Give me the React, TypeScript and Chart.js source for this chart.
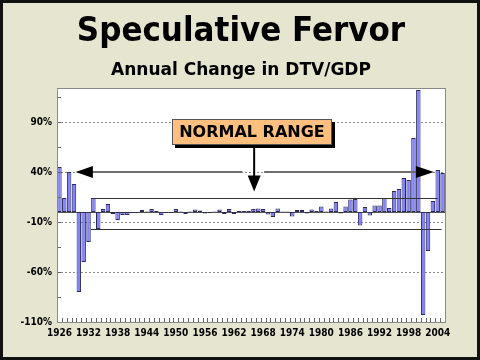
import React, { useEffect, useRef } from "react";
import { Chart, registerables } from "chart.js";
Chart.register(...registerables);

const firstYear = 1926;
const yearCount = 80;
const years: string[] = Array.from({ length: yearCount }, (_, i) => String(firstYear + i));

const changes: number[] = [
  45, 14, 40, 28, -80, -50, -30, 14, -17, 3,
  8, -2, -8, -3, -3, -1, -1, 2, 0.5, 3,
  1, -3, -1, -1, 3, 0.5, -2, 0.5, 2.5, 1.5,
  -1.5, -1, 0.5, 2.5, -2, 3, -2, 1, 1, 1,
  3, 3.5, 3, -2.5, -5, 3.5, 0.5, 0.5, -4.5, 2,
  2, -1.5, 2.5, 1, 5.5, 0.5, 3.5, 10, -1.5, 5.5,
  12.5, 13, -13.5, 5, -3.5, 6.5, 6.5, 14, 4, 21,
  23, 34, 32, 74, 122, -103, -39, 11, 42, 39,
];

const tickYears: string[] = ["1926", "1932", "1938", "1944", "1950", "1956", "1962", "1968", "1974", "1980", "1986", "1992", "1998", "2004"];
const yTickValues: number[] = [-110, -60, -10, 40, 90];
const yMin = -110;
const yMax = 124;

const normalUpper = 14.5;
const normalLower = -16.5;
const arrowLevel = 40;

const FONT = '"DejaVu Sans Condensed", "DejaVu Sans", sans-serif';

const decor = {
  id: "decor",
  beforeDatasetsDraw(chart: any) {
    const { ctx, chartArea: a, scales } = chart;
    const y = scales.y;
    ctx.save();
    ctx.strokeStyle = "#8c8c8c";
    ctx.lineWidth = 1;
    ctx.setLineDash([2, 2]);
    for (const v of yTickValues) {
      if (v === yMin) continue;
      const py = Math.round(y.getPixelForValue(v)) + 0.5;
      ctx.beginPath();
      ctx.moveTo(a.left, py);
      ctx.lineTo(a.right, py);
      ctx.stroke();
    }
    ctx.setLineDash([]);
    const z = Math.round(y.getPixelForValue(0)) + 0.5;
    ctx.strokeStyle = "#555";
    ctx.beginPath();
    ctx.moveTo(a.left, z);
    ctx.lineTo(a.right, z);
    ctx.stroke();
    ctx.restore();
  },
  afterDatasetsDraw(chart: any) {
    const { ctx, chartArea: a, scales } = chart;
    const y = scales.y;
    const step = (a.right - a.left) / yearCount;
    const cx = (c: number) => a.left + c * step;
    ctx.save();
    ctx.strokeStyle = "#333";
    ctx.lineWidth = 1;
    const u = Math.round(y.getPixelForValue(normalUpper)) + 0.5;
    const l = Math.round(y.getPixelForValue(normalLower)) + 0.5;
    ctx.beginPath();
    ctx.moveTo(cx(7), u);
    ctx.lineTo(cx(78.5), u);
    ctx.moveTo(cx(7), l);
    ctx.lineTo(cx(79.3), l);
    ctx.stroke();

    const ay = y.getPixelForValue(arrowLevel);
    ctx.strokeStyle = "#6e6e6e";
    ctx.lineWidth = 2;
    ctx.beginPath();
    ctx.moveTo(cx(4.5), ay);
    ctx.lineTo(cx(38.2), ay);
    ctx.moveTo(cx(42.7), ay);
    ctx.lineTo(cx(76), ay);
    ctx.stroke();
    ctx.fillStyle = "#000";
    ctx.beginPath();
    ctx.moveTo(cx(3.86), ay);
    ctx.lineTo(cx(7.4), ay - 6);
    ctx.lineTo(cx(7.4), ay + 6);
    ctx.closePath();
    ctx.fill();
    ctx.beginPath();
    ctx.moveTo(cx(77.7), ay);
    ctx.lineTo(cx(74.0), ay - 6);
    ctx.lineTo(cx(74.0), ay + 6);
    ctx.closePath();
    ctx.fill();

    const dx = cx(40.65);
    const top = y.getPixelForValue(66.7);
    const base = y.getPixelForValue(36.5);
    const tip = y.getPixelForValue(20.5);
    ctx.strokeStyle = "#000";
    ctx.lineWidth = 2;
    ctx.beginPath();
    ctx.moveTo(dx, top);
    ctx.lineTo(dx, base + 1);
    ctx.stroke();
    ctx.beginPath();
    ctx.moveTo(dx - 6.5, base);
    ctx.lineTo(dx + 6.5, base);
    ctx.lineTo(dx, tip);
    ctx.closePath();
    ctx.fill();

    ctx.strokeStyle = "#666";
    ctx.lineWidth = 1;
    ctx.beginPath();
    for (let v = yMin; v <= yMax; v += 25) {
      const py = Math.round(y.getPixelForValue(v)) + 0.5;
      ctx.moveTo(a.left, py);
      ctx.lineTo(a.left + 4, py);
    }
    for (let k = 0; k <= yearCount; k++) {
      const px = Math.round(cx(k)) + 0.5;
      ctx.moveTo(px, a.bottom);
      ctx.lineTo(px, a.bottom - 4);
    }
    ctx.stroke();

    ctx.strokeStyle = "#8a8a8a";
    ctx.strokeRect(Math.round(a.left) + 0.5, Math.round(a.top) + 0.5, Math.round(a.right - a.left), Math.round(a.bottom - a.top));
    ctx.restore();
  },
};

const plotBg = {
  id: "plotBg",
  beforeDraw(chart: any) {
    const { ctx, chartArea: a } = chart;
    ctx.save();
    ctx.fillStyle = "#ffffff";
    ctx.fillRect(a.left, a.top, a.right - a.left, a.bottom - a.top);
    ctx.restore();
  },
};

export default function App() {
  const ref = useRef<HTMLCanvasElement | null>(null);
  useEffect(() => {
    if (!ref.current) return;
    const chart = new Chart(ref.current, {
      type: "bar",
      data: {
        labels: years,
        datasets: [
          {
            data: changes,
            backgroundColor: "#8282ff",
            borderColor: "#2a2a55",
            borderWidth: 1,
            borderSkipped: false,
            barPercentage: 0.92,
            categoryPercentage: 1,
          },
        ],
      },
      options: {
        responsive: false,
        animation: false,
        layout: { padding: { top: 88, right: 35, left: 0, bottom: 0 } },
        plugins: { legend: { display: false }, tooltip: { enabled: false }, title: { display: false } },
        scales: {
          x: {
            type: "category",
            offset: true,
            grid: { display: false, drawTicks: false },
            border: { display: false },
            ticks: {
              autoSkip: false,
              maxRotation: 0,
              minRotation: 0,
              padding: 5,
              color: "#000",
              font: { family: FONT, weight: "bold", size: 10 },
              callback: (_v: any, i: number) => (tickYears.includes(years[i]) ? years[i] : ""),
            },
            afterFit: (s: any) => {
              s.height = 38;
            },
          },
          y: {
            min: yMin,
            max: yMax,
            afterBuildTicks: (s: any) => {
              s.ticks = yTickValues.map((v) => ({ value: v }));
            },
            grid: { display: false, drawTicks: false },
            border: { display: false },
            ticks: {
              padding: 5,
              color: "#000",
              font: { family: FONT, weight: "bold", size: 10 },
              callback: (v: any) => v + "%",
            },
            afterFit: (s: any) => {
              s.width = 57;
            },
          },
        },
      },
      plugins: [plotBg, decor],
    } as any);
    return () => chart.destroy();
  }, []);

  return (
    <div style={{ position: "fixed", left: 0, top: 0, width: 480, height: 360, background: "#e5e5d0", overflow: "hidden" }}>
      <canvas ref={ref} width={480} height={360} style={{ position: "absolute", left: 0, top: 0, width: 480, height: 360 }} />
      <div
        style={{
          position: "absolute",
          left: 0,
          top: 7,
          width: 482,
          textAlign: "center",
          fontFamily: FONT,
          fontWeight: "bold",
          fontSize: 34.5,
          lineHeight: "44px",
          color: "#000",
          whiteSpace: "nowrap",
        }}
      >
        Speculative Fervor
      </div>
      <div
        style={{
          position: "absolute",
          left: 0,
          top: 57,
          width: 482,
          textAlign: "center",
          fontFamily: '"DejaVu Sans", sans-serif',
          fontWeight: "bold",
          fontSize: 17,
          lineHeight: "24px",
          color: "#000",
          whiteSpace: "nowrap",
        }}
      >
        Annual Change in DTV/GDP
      </div>
      <div
        style={{
          position: "absolute",
          left: 172,
          top: 119,
          width: 160,
          height: 26,
          boxSizing: "border-box",
          background: "#ffbf7f",
          border: "1px solid #555",
          boxShadow: "3px 3px 0 #000",
          textAlign: "center",
          fontFamily: '"DejaVu Sans", sans-serif',
          fontWeight: "bold",
          fontSize: 16,
          lineHeight: "24px",
          color: "#000",
          whiteSpace: "nowrap",
        }}
      >
        NORMAL RANGE
      </div>
      <div style={{ position: "absolute", left: 0, top: 0, width: 480, height: 360, boxSizing: "border-box", border: "3px solid #111", pointerEvents: "none" }} />
    </div>
  );
}
